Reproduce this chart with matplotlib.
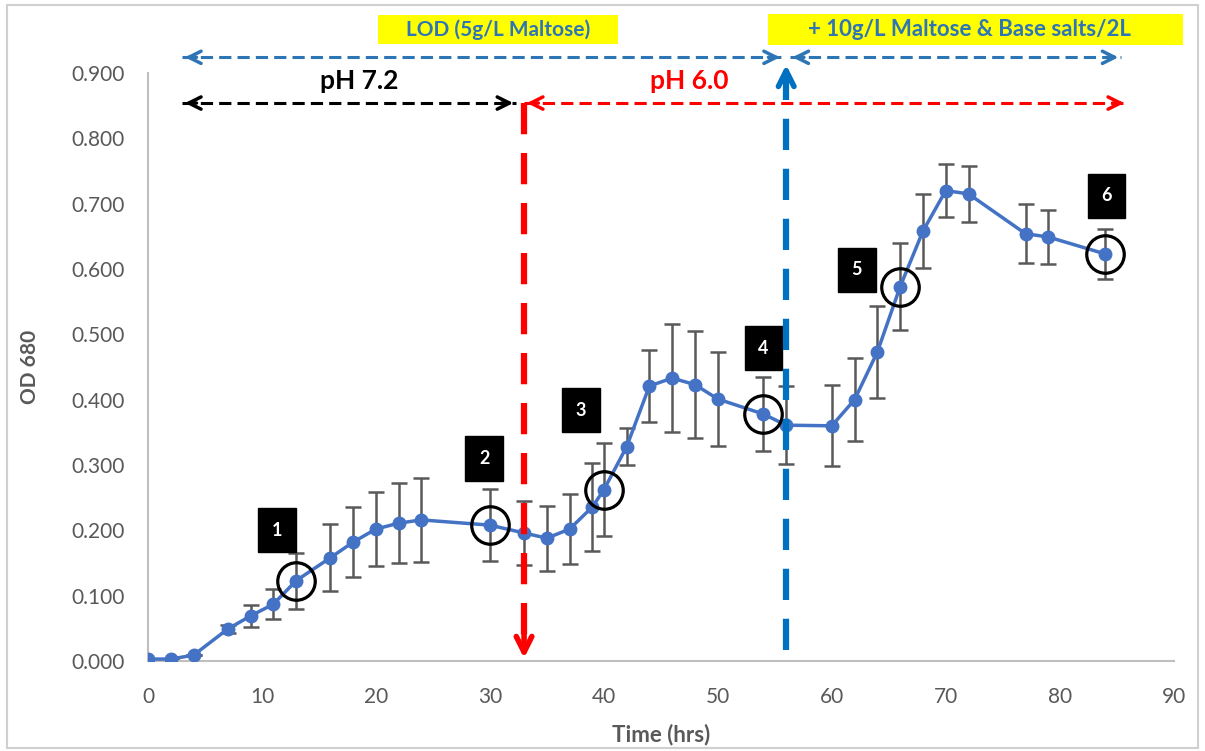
import matplotlib.pyplot as plt
from matplotlib.patches import Rectangle
import numpy as np

plt.rcParams['font.family'] = ['Lato', 'DejaVu Sans']

# growth curve: time (hrs), OD 680 and std dev
time = [0, 2, 4, 7, 9, 11, 13, 16, 18, 20, 22, 24, 30, 33, 35, 37, 39, 40, 42,
        44, 46, 48, 50, 54, 56, 60, 62, 64, 66, 68, 70, 72, 77, 79, 84]
od = [0.003, 0.003, 0.009, 0.049, 0.069, 0.087, 0.123, 0.158, 0.182, 0.202,
      0.211, 0.216, 0.208, 0.196, 0.188, 0.202, 0.236, 0.262, 0.328, 0.421,
      0.433, 0.423, 0.401, 0.378, 0.361, 0.360, 0.400, 0.473, 0.573, 0.658,
      0.720, 0.715, 0.654, 0.649, 0.623]
err = [0.0, 0.0, 0.0, 0.006, 0.017, 0.023, 0.043, 0.051, 0.053, 0.056,
       0.061, 0.064, 0.055, 0.049, 0.050, 0.053, 0.067, 0.071, 0.028, 0.055,
       0.083, 0.082, 0.072, 0.056, 0.060, 0.062, 0.064, 0.071, 0.067, 0.057,
       0.041, 0.043, 0.045, 0.042, 0.038]

# sampling points that are circled and numbered
sample_times = [13, 30, 40, 54, 66, 84]
sample_labels = ['1', '2', '3', '4', '5', '6']
label_pos = [(11.3, 0.200), (29.5, 0.310), (38.0, 0.384),
             (54.0, 0.479), (62.2, 0.599), (84.1, 0.712)]

ph_shift = 33      # pH 7.2 -> 6.0
feed_time = 56     # maltose + base salts feed

fig = plt.figure(figsize=(12.05, 7.51), dpi=100)
ax = fig.add_axes([0.1228, 0.1198, 0.8512, 0.7830])

gray = '#595959'
blue = '#4472C4'
ann_blue = '#2E75B6'

ax.errorbar(time, od, yerr=err, fmt='none', ecolor=gray, elinewidth=1.8,
            capsize=6, capthick=1.8, zorder=2)
ax.plot(time, od, '-o', color=blue, lw=2.5, ms=9, zorder=3)

circ_od = [od[time.index(t)] for t in sample_times]
ax.plot(sample_times, circ_od, 'o', mfc='none', mec='black', ms=27, mew=2.3,
        zorder=4)
for (lx, ly), s in zip(label_pos, sample_labels):
    ax.text(lx, ly, s, color='white', fontsize=13, fontweight='bold',
            ha='center', va='center', zorder=5,
            bbox=dict(boxstyle='square,pad=0.75', fc='black', ec='black'))

ax.set_xlim(0, 90)
ax.set_ylim(0, 0.9)
ax.set_xticks(np.arange(0, 91, 10))
ax.set_yticks(np.arange(0, 0.91, 0.1))
ax.yaxis.set_major_formatter(plt.FuncFormatter(lambda v, p: '%.3f' % v))
ax.tick_params(length=0, labelsize=15, colors=gray)
ax.tick_params(axis='x', pad=19)
ax.tick_params(axis='y', pad=17)
for s in ['top', 'right']:
    ax.spines[s].set_visible(False)
for s in ['left', 'bottom']:
    ax.spines[s].set_color('#bfbfbf')
    ax.spines[s].set_linewidth(1.5)
ax.set_xlabel('Time (hrs)', fontsize=16, fontweight='bold', color=gray,
              labelpad=12)
ax.set_ylabel('OD 680', fontsize=15, fontweight='bold', color=gray,
              labelpad=22)


def dashed_arrow(x0, x1, y, color, heads='both'):
    ax.plot([x0, x1], [y, y], color=color, lw=2.2, ls=(0, (4, 2)),
            clip_on=False, zorder=6)
    hp = dict(arrowstyle='->', color=color, lw=2.5, mutation_scale=22)
    if heads in ('both', 'left'):
        ax.annotate('', xy=(x0, y), xytext=(x0 + 1.5, y), arrowprops=hp,
                    annotation_clip=False)
    if heads in ('both', 'right'):
        ax.annotate('', xy=(x1, y), xytext=(x1 - 1.5, y), arrowprops=hp,
                    annotation_clip=False)


# phase arrows
dashed_arrow(3.0, 32.3, 0.854, 'black')
dashed_arrow(ph_shift, 85.9, 0.854, '#FF0000')
dashed_arrow(3.0, 55.7, 0.924, ann_blue)
dashed_arrow(56.3, 85.4, 0.924, ann_blue)

ax.text(18.5, 0.887, 'pH 7.2', fontsize=19, fontweight='bold', color='black',
        ha='center', va='center')
ax.text(47.5, 0.887, 'pH 6.0', fontsize=19, fontweight='bold', color='#FF0000',
        ha='center', va='center')

# vertical event lines
ax.plot([ph_shift, ph_shift], [0.854, 0.03], color='#FF0000', lw=4.5,
        ls=(0, (5, 3)), clip_on=False, zorder=6)
ax.annotate('', xy=(ph_shift, 0.0), xytext=(ph_shift, 0.05),
            arrowprops=dict(arrowstyle='->', color='#FF0000', lw=4,
                            mutation_scale=28), annotation_clip=False)
ax.plot([feed_time, feed_time], [0.017, 0.89], color='#0070C0', lw=4.5,
        ls=(0, (5, 3)), clip_on=False, zorder=6)
ax.annotate('', xy=(feed_time, 0.917), xytext=(feed_time, 0.87),
            arrowprops=dict(arrowstyle='->', color='#0070C0', lw=4,
                            mutation_scale=28), annotation_clip=False)

# highlighted feed notes
ax.add_patch(Rectangle((20.2, 0.945), 21.0, 0.044, fc='#FFFF00', ec='none',
                       clip_on=False, zorder=6))
ax.text(30.7, 0.967, 'LOD (5g/L Maltose)', fontsize=15, fontweight='bold',
        color=ann_blue, ha='center', va='center', zorder=7)
ax.add_patch(Rectangle((54.4, 0.943), 36.4, 0.048, fc='#FFFF00', ec='none',
                       clip_on=False, zorder=6))
ax.text(72.1, 0.967, '+ 10g/L Maltose & Base salts/2L', fontsize=16,
        fontweight='bold', color=ann_blue, ha='center', va='center', zorder=7)

fig.patches.append(Rectangle((7 / 1205, 3 / 751), 1191 / 1205, 743 / 751,
                             fill=False, ec='#d0d0d0', lw=1.5,
                             transform=fig.transFigure, figure=fig))

fig.savefig('out.png', dpi=100)
